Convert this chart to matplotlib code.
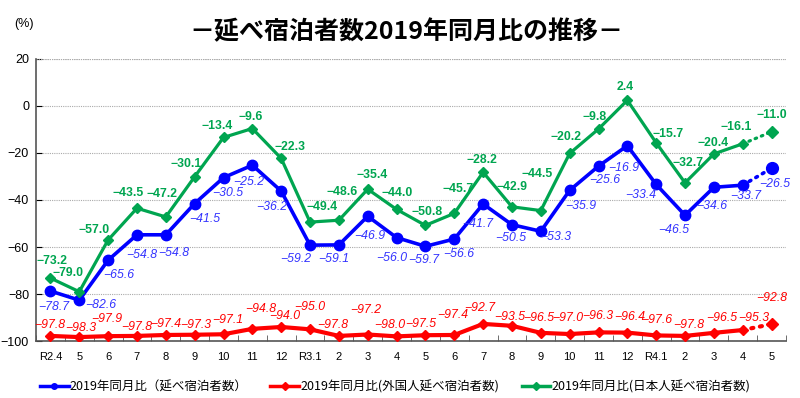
import numpy as np
import matplotlib.pyplot as plt
from matplotlib.lines import Line2D

# Data (2019同月比, %)
months = ['R2.4', '5', '6', '7', '8', '9', '10', '11', '12',
          'R3.1', '2', '3', '4', '5', '6', '7', '8', '9', '10', '11', '12',
          'R4.1', '2', '3', '4', '5']
total = [-78.7, -82.6, -65.6, -54.8, -54.8, -41.5, -30.5, -25.2, -36.2,
         -59.2, -59.1, -46.9, -56.0, -59.7, -56.6, -41.7, -50.5, -53.3,
         -35.9, -25.6, -16.9, -33.4, -46.5, -34.6, -33.7, -26.5]
foreign = [-97.8, -98.3, -97.9, -97.8, -97.4, -97.3, -97.1, -94.8, -94.0,
           -95.0, -97.8, -97.2, -98.0, -97.5, -97.4, -92.7, -93.5, -96.5,
           -97.0, -96.3, -96.4, -97.6, -97.8, -96.5, -95.3, -92.8]
japanese = [-73.2, -79.0, -57.0, -43.5, -47.2, -30.1, -13.4, -9.6, -22.3,
            -49.4, -48.6, -35.4, -44.0, -50.8, -45.7, -28.2, -42.9, -44.5,
            -20.2, -9.8, 2.4, -15.7, -32.7, -20.4, -16.1, -11.0]
legend_labels = ['2019年同月比（延べ宿泊者数）',
                 '2019年同月比(外国人延べ宿泊者数)',
                 '2019年同月比(日本人延べ宿泊者数)']

# label offsets in pixels (dx, dy)
off_total = [(3, -16), (21, -5), (11, -15), (5, -20), (8, -18), (10, -15), (4, -15),
             (-4, -17), (-9, -16), (-14, -14), (-5, -14), (2, -20), (-5, -20),
             (-2, -14), (4, -15), (-5, -20), (-1, -13), (15, -6), (11, -16),
             (6, -14), (-4, -22), (-15, -11), (-11, -15), (-2, -19), (3, -11), (3, -16)]
off_jp = [(2, 17), (-11, 19), (-14, 10), (-9, 15), (-4, 23), (-9, 13), (-6, 11),
          (-2, 12), (9, 11), (12, 15), (3, 28), (4, 14), (1, 16), (2, 13), (4, 24),
          (-1, 12), (0, 20), (-4, 37), (-4, 16), (-4, 12), (-2, 13), (12, 9),
          (3, 20), (-1, 11), (-7, 17), (0, 17)]
off_fr = [(-1, 11), (1, 9), (-1, 17), (0, 9), (0, 11), (1, 10), (4, 14), (8, 20),
          (4, 11), (0, 22), (-6, 11), (-2, 25), (-7, 11), (-5, 11), (-2, 20),
          (-3, 16), (-2, 9), (-2, 15), (-2, 16), (-1, 16), (2, 16), (1, 15),
          (4, 11), (8, 15), (11, 12), (0, 26)]

plt.rcParams['font.family'] = ['Liberation Sans', 'Noto Sans CJK JP']
cjk = ['Noto Sans CJK JP', 'DejaVu Sans']

fig = plt.figure(figsize=(8, 3.98), dpi=100)
ax = fig.add_axes([0.045, 0.143, 0.9375, 0.709])

x = np.arange(len(months))
series = [
    (total, '#0000FF', 'o', 7.5, 2.6, off_total, '#3333FF', 'normal', 'italic'),
    (foreign, '#FF0000', 'D', 5.5, 3.0, off_fr, '#FF0000', 'normal', 'italic'),
    (japanese, '#00A550', 'D', 5, 2.3, off_jp, '#00A550', 'bold', 'normal'),
]
for vals, col, mk, ms, lw, offs, tcol, fw, fs in series:
    v = np.array(vals)
    ax.plot(x[:-1], v[:-1], color=col, lw=lw, marker=mk, ms=ms, zorder=3)
    ax.plot(x[-2:], v[-2:], color=col, lw=lw, ls=(0, (0.5, 1.6)),
            dash_capstyle='round', zorder=3)
    ax.plot(x[-1], v[-1], color=col, marker=mk, ms=ms + 1, ls='none', zorder=3)
    for i, val in enumerate(vals):
        ax.annotate(f'{val:.1f}'.replace('-', '−'), (x[i], val),
                    xytext=offs[i], textcoords='offset pixels',
                    ha='center', va='center', fontsize=8.8, color=tcol,
                    fontweight=fw, fontstyle=fs, zorder=4)

ax.set_xlim(-0.5, len(months) - 0.5)
ax.set_ylim(-100, 20)
ax.set_yticks(np.arange(-100, 21, 20))
ax.tick_params(axis='y', direction='in', length=4, labelsize=9, pad=5)
ax.set_xticks(x)
ax.set_xticklabels(months, fontsize=8)
ax.tick_params(axis='x', which='major', length=0, pad=8)
ax.set_xticks(np.arange(-0.5, len(months)), minor=True)
ax.tick_params(axis='x', which='minor', direction='in', length=4, color='#555555')
ax.grid(axis='y', color='#AAAAAA', ls=(0, (1, 1)), lw=0.8)
for s in ['top', 'right']:
    ax.spines[s].set_visible(False)
for s in ['left', 'bottom']:
    ax.spines[s].set_color('#555555')
    ax.spines[s].set_linewidth(1.2)
ax.axhline(20, color='#AAAAAA', ls=(0, (1, 1)), lw=0.8)

fig.text(0.018, 0.94, '(%)', fontsize=9, ha='left', va='center')
fig.text(0.508, 0.92, '－延べ宿泊者数2019年同月比の推移－', fontsize=18,
         fontweight='bold', ha='center', va='center', family=cjk)

handles = [Line2D([], [], color=c, lw=2.5, marker=m, ms=4)
           for c, m in [('#0000FF', 'o'), ('#FF0000', 'D'), ('#00A550', 'D')]]
fig.legend(handles, legend_labels, loc='center', bbox_to_anchor=(0.494, 0.028),
           ncol=3, frameon=False, handlelength=2.3, handletextpad=0.1,
           columnspacing=1.8, prop={'family': cjk, 'size': 9})

fig.savefig('out.png', dpi=100)
